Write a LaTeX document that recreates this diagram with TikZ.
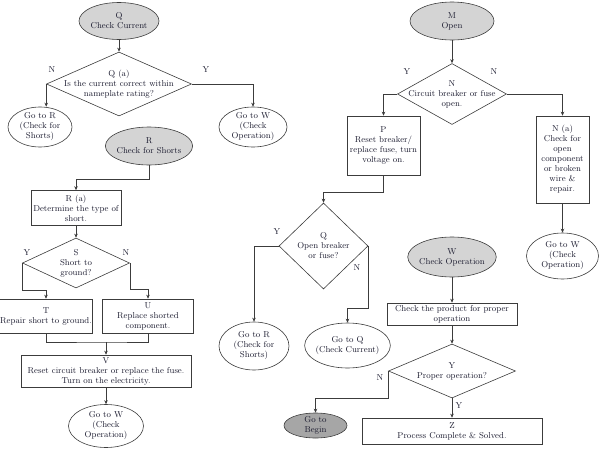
\documentclass[tikz,border=0pt]{standalone}
\usetikzlibrary{shapes.geometric,arrows.meta}
\definecolor{lightfill}{HTML}{D4D4D4}
\definecolor{darkfill}{HTML}{A6A6A6}
\definecolor{inkline}{HTML}{3C3C3C}
\definecolor{inktext}{HTML}{1C1C30}
\begin{document}
\begin{tikzpicture}[
	x=1pt, y=-1pt,
	every node/.style={ text=inktext, font=\fontsize{8.6}{10}\selectfont, align=center },
	term/.style={ ellipse, draw=inkline, line width=0.6pt, fill=lightfill, inner sep=-1.5pt },
	termg/.style={ ellipse, draw=inkline, line width=0.6pt, fill=darkfill, inner sep=-1.5pt },
	goto/.style={ ellipse, draw=inkline, line width=0.6pt, fill=white, inner sep=-1.5pt },
	stepbox/.style={ rectangle, draw=inkline, line width=0.6pt, inner sep=1pt },
	decision/.style={ diamond, draw=inkline, line width=0.6pt, inner sep=0pt, label={[align=center]center:#1} },
	lbl/.style={ inner sep=0pt },
	arr/.style={ draw=inkline, line width=0.6pt, -{Stealth[length=4pt,width=3.5pt]} },
	conn/.style={ draw=inkline, line width=0.6pt }
]
\useasboundingbox (0,0) rectangle (600,450);

% left column
\node[term, minimum width=80pt, minimum height=37pt] at (119,21) (q) {Q\\Check Current};
\node[decision={Q (a)\\Is the current correct within\\nameplate rating?}, minimum width=145pt, minimum height=64pt] at (119,84) (qa) {};
\node[goto, minimum width=64pt, minimum height=40pt] at (40,127) (gr1) {Go to R\\(Check for\\Shorts)};
\node[goto, minimum width=68pt, minimum height=40pt] at (253,127) (gw1) {Go to W\\(Check\\Operation)};
\node[lbl] at (52,70) (qan) {N};
\node[lbl] at (206,70) (qay) {Y};
\draw[arr] (q) -- (qa);
\draw[arr] (qa.west) -- (qa.west |- gr1.north);
\draw[arr] (qa.east) -| (gw1.north);

\node[term, minimum width=86pt, minimum height=38pt] at (149,146) (r) {R\\Check for Shorts};
\node[stepbox, minimum width=90pt, minimum height=35pt] at (76,208) (ra) {R (a)\\Determine the type of\\short.};
\node[decision={S\\Short to\\ground?}, minimum width=107pt, minimum height=50pt] at (76,263) (s) {};
\node[lbl] at (27,253) (sy) {Y};
\node[lbl] at (126,253) (sn) {N};
\node[stepbox, minimum width=90pt, minimum height=34pt] at (46,316) (t) {T\\Repair short to ground.};
\node[stepbox, minimum width=91pt, minimum height=34pt] at (148,316) (u) {U\\Replace shorted\\component.};
\node[stepbox, minimum width=170pt, minimum height=32pt] at (106,371) (v) {V\\Reset circuit breaker or replace the fuse.\\Turn on the electricity.};
\node[goto, minimum width=75pt, minimum height=43pt] at (106,426) (gw2) {Go to W\\(Check\\Operation)};
\coordinate (tu) at (106,342);
\draw[arr] (r.south) -- ++(0,14) -| (ra.north);
\draw[arr] (ra) -- (s);
\draw[arr] (s.west) -- ++(0,27) -| (t.north);
\draw[arr] (s.east) -- ++(0,26) -| (u.north);
\draw[conn] (t.south) |- (tu) -| (u.south);
\draw[arr] (tu) -- (v.north);
\draw[arr] (v) -- (gw2);

% right column
\node[term, minimum width=84pt, minimum height=38pt] at (452,21) (m) {M\\Open};
\node[decision={N\\Circuit breaker or fuse\\open.}, minimum width=109pt, minimum height=61pt] at (452,94) (n) {};
\node[lbl] at (407,72) (ny) {Y};
\node[lbl] at (494,72) (nn) {N};
\node[stepbox, minimum width=73pt, minimum height=59pt] at (383.5,145.5) (p) {P\\Reset breaker/\\replace fuse, turn\\voltage on.};
\node[stepbox, minimum width=53pt, minimum height=87pt] at (562.5,159.5) (na) {N (a)\\Check for\\open\\component\\or broken\\wire \&\\repair.};
\node[goto, minimum width=72pt, minimum height=46pt] at (562.5,256) (gw3) {Go to W\\(Check\\Operation)};
\draw[arr] (m) -- (n);
\draw[arr] (n.west) -| (p.north);
\draw[arr] (n.east) -| (na.north);
\draw[arr] (na) -- (gw3);

\node[decision={Q\\Open breaker\\or fuse?}, minimum width=89pt, minimum height=86pt] at (323.5,246) (q2) {};
\node[lbl] at (277,232) (q2y) {Y};
\node[lbl] at (357,268) (q2n) {N};
\node[goto, minimum width=70pt, minimum height=48pt] at (254,346) (gr2) {Go to R\\(Check for\\Shorts)};
\node[goto, minimum width=73pt, minimum height=45pt] at (347.5,345.5) (gq) {Go to Q\\(Check Current)};
\draw[arr] (p.south) -- ++(0,17) -| (q2.north);
\draw[arr] (q2.west) -| (gr2.north);
\draw[arr] (q2.east) -- ++(0,62) -| (gq.north);

\node[term, minimum width=85pt, minimum height=40pt] at (452,257) (w) {W\\Check Operation};
\node[stepbox, minimum width=130pt, minimum height=22pt] at (452,314) (chk) {Check the product for proper\\operation};
\node[decision={Y\\Proper operation?}, minimum width=127pt, minimum height=54pt] at (452,371) (y) {};
\node[lbl] at (380,378) (yn) {N};
\node[lbl] at (459,406) (yy) {Y};
\node[termg, minimum width=63pt, minimum height=25pt] at (315.5,425.5) (gb) {Go to\\Begin};
\node[stepbox, minimum width=180pt, minimum height=26pt] at (452,431) (z) {Z\\Process Complete \& Solved.};
\draw[arr] (w) -- (chk);
\draw[arr] (chk) -- (y);
\draw[arr] (y.west) -- ++(0,27) -| (gb.north);
\draw[arr] (y) -- (z);

\end{tikzpicture}
\end{document}
